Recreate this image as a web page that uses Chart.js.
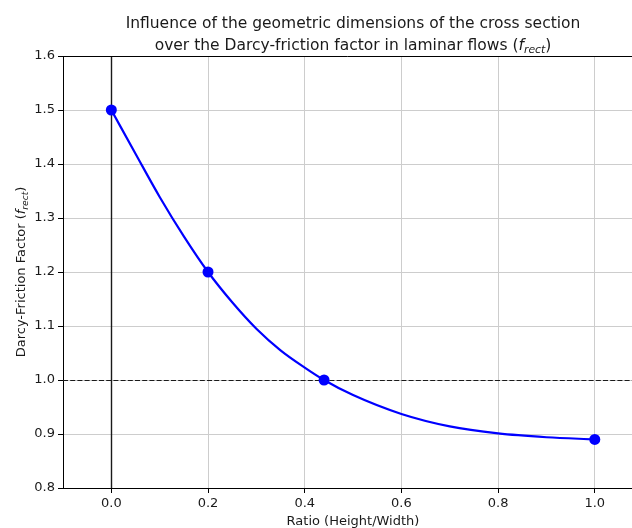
<!DOCTYPE html>
<html>
<head>
<meta charset="utf-8">
<script src="https://cdn.jsdelivr.net/npm/chart.js@4.4.1/dist/chart.umd.min.js"></script>
<style>
  html, body { margin: 0; padding: 0; background: #fff; }
  #wrap { width: 632px; height: 528px; position: relative; }
</style>
</head>
<body>
<div id="wrap"><canvas id="c"></canvas></div>
<script>
// Measured points: height/width ratio of the rectangular section and its factor
const ratios = [0.0, 0.2, 0.44, 1.0];
const frictionFactors = [1.5, 1.2, 1.0, 0.89];

// Smoothed curve through the measured points
const curveRatios = [0.0, 0.05, 0.1, 0.15, 0.2, 0.25, 0.3, 0.35, 0.4, 0.44, 0.5, 0.6, 0.7, 0.8, 0.9, 1.0];
const curveFactors = [1.5, 1.419, 1.339, 1.266, 1.2, 1.144, 1.095, 1.055, 1.023, 1.0, 0.972, 0.937, 0.914, 0.901, 0.894, 0.89];

// Tick positions on both axes
const xTicks = [0.0, 0.2, 0.4, 0.6, 0.8, 1.0];
const yTicks = [0.8, 0.9, 1.0, 1.1, 1.2, 1.3, 1.4, 1.5, 1.6];

// Reference lines: vertical at ratio 0, horizontal at factor 1
const refRatio = 0.0;
const refFactor = 1.0;

const FONT = '"DejaVu Sans", sans-serif';
const TEXT = '#1a1a1a';

// Draw a run of text pieces (normal / italic / subscript) one after another
function drawRich(ctx, parts, x, y, align) {
  let total = 0;
  for (const p of parts) { ctx.font = p.font; total += ctx.measureText(p.text).width; }
  let cx = align === 'center' ? x - total / 2 : x;
  ctx.textBaseline = 'alphabetic';
  ctx.textAlign = 'left';
  for (const p of parts) {
    ctx.font = p.font;
    ctx.fillText(p.text, cx, y + (p.dy || 0));
    cx += ctx.measureText(p.text).width;
  }
}

function frectParts(size, lead) {
  return [
    { text: lead + '(', font: size + 'px ' + FONT },
    { text: 'f', font: 'oblique ' + size + 'px ' + FONT },
    { text: 'rect', font: 'oblique ' + (size * 0.7) + 'px ' + FONT, dy: size * 0.22 },
    { text: ')', font: size + 'px ' + FONT }
  ];
}

const decorations = {
  id: 'decorations',
  beforeDatasetsDraw(chart) {
    const { ctx, chartArea: a, scales: { x, y } } = chart;
    ctx.save();
    ctx.beginPath();
    ctx.rect(a.left, a.top, a.right - a.left, a.bottom - a.top);
    ctx.clip();
    // vertical line at ratio 0
    const vx = Math.round(x.getPixelForValue(refRatio)) + 0.5;
    ctx.strokeStyle = '#1a1a1a';
    ctx.lineWidth = 1.4;
    ctx.beginPath();
    ctx.moveTo(vx, a.top);
    ctx.lineTo(vx, a.bottom);
    ctx.stroke();
    // dashed horizontal line at factor 1
    const hy = Math.round(y.getPixelForValue(refFactor)) + 0.5;
    ctx.lineWidth = 1.1;
    ctx.setLineDash([5, 2.2]);
    ctx.beginPath();
    ctx.moveTo(a.left, hy);
    ctx.lineTo(a.right, hy);
    ctx.stroke();
    ctx.restore();
  },
  afterDraw(chart) {
    const { ctx, chartArea: a } = chart;
    ctx.save();
    // top frame line
    ctx.strokeStyle = '#000';
    ctx.lineWidth = 1;
    ctx.beginPath();
    ctx.moveTo(a.left, a.top + 0.5);
    ctx.lineTo(a.right, a.top + 0.5);
    ctx.stroke();

    ctx.fillStyle = TEXT;
    const mid = 353;
    // title
    drawRich(ctx, [{ text: 'Influence of the geometric dimensions of the cross section', font: '15.5px ' + FONT }], mid, 28, 'center');
    drawRich(ctx, frectParts(15.5, 'over the Darcy-friction factor in laminar flows '), mid, 50, 'center');
    // x axis label
    drawRich(ctx, [{ text: 'Ratio (Height/Width)', font: '13px ' + FONT }], mid, 525, 'center');
    // y axis label
    ctx.translate(25, (a.top + a.bottom) / 2);
    ctx.rotate(-Math.PI / 2);
    drawRich(ctx, frectParts(13, 'Darcy-Friction Factor '), 0, 0, 'center');
    ctx.restore();
  }
};

new Chart(document.getElementById('c'), {
  type: 'scatter',
  data: {
    datasets: [{
      // measured points
      data: ratios.map((r, i) => ({ x: r, y: frictionFactors[i] })),
      showLine: false,
      backgroundColor: '#0000ff',
      pointBackgroundColor: '#0000ff',
      pointBorderWidth: 0,
      pointRadius: 5.5,
      pointHoverRadius: 5.5,
      order: 0
    }, {
      // smoothed curve
      data: curveRatios.map((r, i) => ({ x: r, y: curveFactors[i] })),
      showLine: true,
      cubicInterpolationMode: 'monotone',
      borderColor: '#0000ff',
      borderWidth: 2.2,
      pointRadius: 0,
      pointHoverRadius: 0,
      order: 1
    }]
  },
  options: {
    responsive: true,
    maintainAspectRatio: false,
    animation: false,
    events: [],
    layout: { autoPadding: false, padding: { top: 56, left: 0, right: 0, bottom: 0 } },
    plugins: { legend: { display: false }, tooltip: { enabled: false }, title: { display: false } },
    scales: {
      x: {
        type: 'linear',
        min: -0.1,
        max: 1.077,
        afterBuildTicks: s => { s.ticks = xTicks.map(v => ({ value: v })); },
        afterFit: s => { s.height = 40; s.paddingLeft = 0; s.paddingRight = 0; },
        ticks: {
          font: { family: FONT, size: 13 },
          color: TEXT,
          padding: 3,
          maxRotation: 0,
          callback: v => Number(v).toFixed(1)
        },
        grid: { color: '#cdcdcd', lineWidth: 1, tickColor: '#000', tickLength: 5 },
        border: { color: '#000', width: 1 }
      },
      y: {
        type: 'linear',
        min: 0.8,
        max: 1.6,
        afterBuildTicks: s => { s.ticks = yTicks.map(v => ({ value: v })); },
        afterFit: s => { s.width = 63; s.paddingTop = 0; s.paddingBottom = 0; },
        ticks: {
          font: { family: FONT, size: 13 },
          color: TEXT,
          padding: 3,
          callback: v => Number(v).toFixed(1)
        },
        grid: { color: '#cdcdcd', lineWidth: 1, tickColor: '#000', tickLength: 5 },
        border: { color: '#000', width: 1 }
      }
    }
  },
  plugins: [decorations]
});
</script>
</body>
</html>
